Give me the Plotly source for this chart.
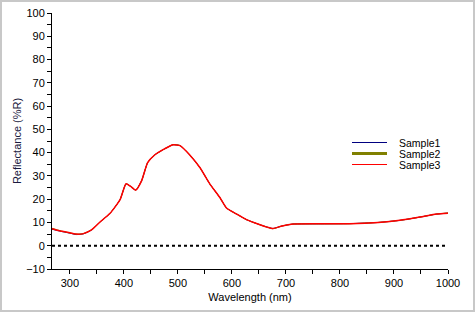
import plotly.graph_objects as go

# Wavelength (nm)
wl = [267, 281, 300, 312, 325, 340, 355, 374, 393, 404, 412, 422, 433, 444, 457, 476, 491, 504,
      522, 541, 559, 578, 590, 608, 627, 652, 665, 676, 693, 713, 760, 818, 871, 911, 948, 979, 1000]
sample3 = [7.3, 6.4, 5.6, 5.0, 5.2, 6.8, 10.0, 13.8, 19.8, 26.6, 25.6, 23.9, 28.0, 35.7, 39.0, 41.7, 43.4, 43.0,
           39.0, 33.5, 26.6, 20.6, 16.2, 13.7, 11.2, 9.0, 8.0, 7.4, 8.5, 9.3, 9.4, 9.45, 10.0, 10.9, 12.3, 13.6, 14.0]
sample1 = [7.1, 6.3, 5.4, 4.8, 5.1, 6.7, 10.0, 13.8, 19.8, 26.6, 25.6, 23.9, 28.0, 35.7, 39.0, 41.7, 43.4, 43.0,
           39.0, 33.5, 26.6, 20.6, 16.2, 13.7, 11.2, 9.0, 8.0, 7.4, 8.5, 9.3, 9.4, 9.5, 10.0, 10.9, 12.3, 13.6, 14.0]
sample2 = [7.5, 6.5, 5.5, 5.0, 5.2, 6.8, 10.0, 13.8, 19.8, 26.6, 25.6, 23.9, 28.0, 35.7, 39.0, 41.7, 43.4, 43.1,
           39.1, 33.5, 26.6, 20.6, 16.2, 13.7, 11.2, 9.0, 8.0, 7.3, 8.5, 9.3, 9.4, 9.45, 10.0, 10.9, 12.3, 13.6, 14.1]
names = ["Sample1", "Sample2", "Sample3"]
colors = ["#000080", "#808000", "#ff0000"]
line_w = [1, 1, 1.5]

xticks = [300, 400, 500, 600, 700, 800, 900, 1000]
yticks = [-10, 0, 10, 20, 30, 40, 50, 60, 70, 80, 90, 100]

W, H = 475, 312
L, R, T, B = 52, 27, 13, 43
pw, ph = W - L - R, H - T - B

fig = go.Figure()
for nm, ys, c, w in zip(names, [sample1, sample2, sample3], colors, line_w):
    fig.add_trace(go.Scatter(x=wl, y=ys, mode="lines", name=nm,
                             line=dict(color=c, width=w, shape="spline", smoothing=0.5),
                             showlegend=False))

# zero reference line
fig.add_trace(go.Scatter(x=[267, 1000], y=[0, 0], mode="lines",
                         line=dict(color="black", width=2, dash="dot"),
                         showlegend=False, hoverinfo="skip"))

font = dict(family="Liberation Sans, Arial, sans-serif", size=11, color="black")

fig.update_layout(
    width=W, height=H,
    margin=dict(l=L, r=R, t=T, b=B, autoexpand=False),
    paper_bgcolor="white", plot_bgcolor="white",
    font=font,
    showlegend=False,
    xaxis=dict(range=[267, 1000], tickvals=xticks, ticks="outside", ticklen=4, tickwidth=1,
               tickcolor="black", showline=True, linecolor="black", linewidth=1,
               showgrid=False, zeroline=False, automargin=False,
               minor=dict(dtick=50, ticks="outside", ticklen=4, tickcolor="black", tick0=0),
               title=dict(text="Wavelength (nm)", font=dict(size=11), standoff=5),
               tickfont=font),
    yaxis=dict(range=[-10, 100], tickvals=yticks, ticks="outside", ticklen=4, tickwidth=1,
               tickcolor="black", showline=True, linecolor="black", linewidth=1,
               showgrid=False, zeroline=False, automargin=False,
               minor=dict(dtick=5, ticks="outside", ticklen=4, tickcolor="black", tick0=0),
               title=dict(text="Reflectance (%R)", font=dict(size=11, color="#1a1a40"), standoff=2),
               tickfont=font),
)

# figure border
fig.add_shape(type="rect", xref="paper", yref="paper",
              x0=(-L + 1) / pw, x1=1 + (R - 1) / pw, y0=(-B + 1) / ph, y1=1 + (T - 1) / ph,
              line=dict(color="#c8c8c8", width=2), layer="below")

# manual legend
legend_y = [142.5, 153.5, 164.5]
legend_w = [1, 3, 1]
for nm, c, py, lw in zip(names, colors, legend_y, legend_w):
    yp = (H - B - py) / ph
    fig.add_shape(type="line", xref="paper", yref="paper",
                  x0=(352 - L) / pw, x1=(387 - L) / pw, y0=yp, y1=yp,
                  line=dict(color=c, width=lw))
    fig.add_annotation(text=nm, xref="paper", yref="paper", x=(397 - L) / pw, y=yp,
                       xanchor="left", yanchor="middle", showarrow=False,
                       font=dict(family=font["family"], size=10.5, color="black"))

fig.write_html("out.html")
